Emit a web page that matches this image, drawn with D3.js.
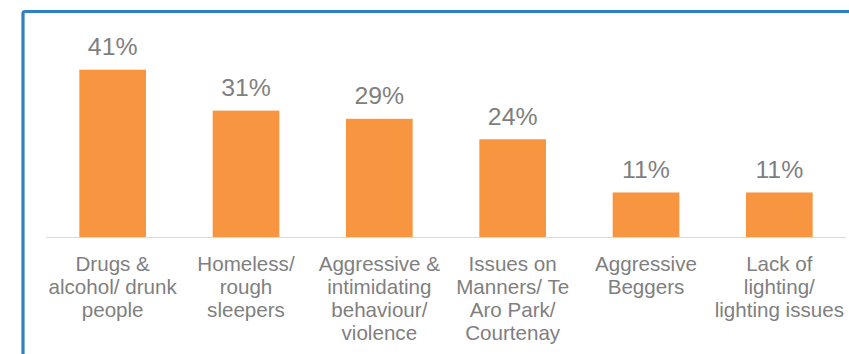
<!DOCTYPE html>
<html>
<head>
<meta charset="utf-8">
<script src="https://cdn.jsdelivr.net/npm/d3@7"></script>
<style>
  html, body { margin: 0; padding: 0; background: #fff; }
  svg { display: block; }
</style>
</head>
<body>
<svg id="chart" width="849" height="354"></svg>
<script>
// Categories (wrapped into lines) and their share of responses (%)
const categories = [
  ["Drugs &", "alcohol/ drunk", "people"],
  ["Homeless/", "rough", "sleepers"],
  ["Aggressive &", "intimidating", "behaviour/", "violence"],
  ["Issues on", "Manners/ Te", "Aro Park/", "Courtenay"],
  ["Aggressive", "Beggers"],
  ["Lack of", "lighting/", "lighting issues"]
];
const values = [41, 31, 29, 24, 11, 11];
const valueLabels = ["41%", "31%", "29%", "24%", "11%", "11%"];

const svg = d3.select("#chart");
const W = 849, H = 354;
const font = "'Liberation Sans', Arial, sans-serif";
const textColor = "#7f7f7f";

// Frame around the chart area
svg.append("rect")
  .attr("x", 23).attr("y", 11.5)
  .attr("width", W + 20).attr("height", H + 20)
  .attr("rx", 2)
  .attr("fill", "none")
  .attr("stroke", "#2e81c3")
  .attr("stroke-width", 3.2);

const ids = d3.range(values.length);
const x = d3.scaleBand()
  .domain(ids)
  .range([46, 846])
  .paddingInner(0.5)
  .paddingOuter(0.25);

const y = d3.scaleLinear()
  .domain([0, 45])
  .range([237.5, 237.5 - 4.093 * 45]);

// Bars
svg.append("g").selectAll("rect")
  .data(ids)
  .join("rect")
  .attr("x", i => x(i))
  .attr("y", i => y(values[i]))
  .attr("width", x.bandwidth())
  .attr("height", i => y(0) - y(values[i]))
  .attr("fill", "#f79540");

// Category axis baseline
svg.append("line")
  .attr("x1", x.range()[0]).attr("x2", x.range()[1])
  .attr("y1", y(0)).attr("y2", y(0))
  .attr("stroke", "#d9d9d9")
  .attr("stroke-width", 1);

// Value labels above bars
svg.append("g").selectAll("text")
  .data(ids)
  .join("text")
  .attr("x", i => x(i) + x.bandwidth() / 2)
  .attr("y", i => y(values[i]) - 14.5)
  .attr("text-anchor", "middle")
  .attr("font-family", font)
  .attr("font-size", 24.8)
  .attr("fill", textColor)
  .text(i => valueLabels[i]);

// Wrapped category labels under the axis
const lineGap = 23.3;
const catG = svg.append("g").selectAll("text")
  .data(ids)
  .join("text")
  .attr("x", i => x(i) + x.bandwidth() / 2)
  .attr("y", y(0) + 33)
  .attr("text-anchor", "middle")
  .attr("font-family", font)
  .attr("font-size", 20.6)
  .attr("fill", textColor);

catG.each(function(i) {
  const t = d3.select(this);
  categories[i].forEach((line, k) => {
    t.append("tspan")
      .attr("x", x(i) + x.bandwidth() / 2)
      .attr("y", y(0) + 33 + k * lineGap)
      .text(line);
  });
});
</script>
</body>
</html>
